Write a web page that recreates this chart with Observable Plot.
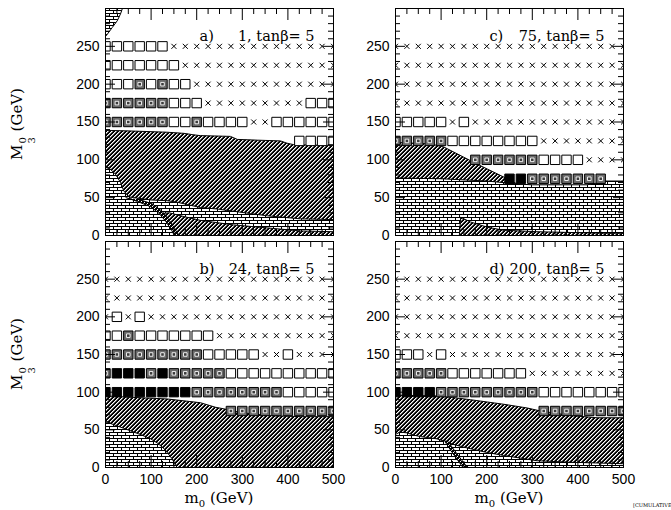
<!DOCTYPE html>
<html><head><meta charset="utf-8">
<script src="https://cdn.jsdelivr.net/npm/d3@7"></script>
<script src="https://cdn.jsdelivr.net/npm/@observablehq/plot@0.6"></script>
<style>
body{margin:0;background:#fff;}
#chart{position:relative;width:671px;height:510px;overflow:hidden;background:#fff;}
.lab{position:absolute;font-family:"DejaVu Serif","Liberation Serif",serif;font-size:15px;color:#000;white-space:nowrap;}
.ss{display:inline-flex;flex-direction:column;font-size:10px;line-height:9px;vertical-align:-4px;margin:0 1px;}
</style></head><body>
<div id="chart">
<svg width="0" height="0" style="position:absolute">
<defs>
<pattern id="hatch" patternUnits="userSpaceOnUse" width="4" height="4" patternTransform="translate(0.5 0.5)" shape-rendering="crispEdges">
<rect width="4" height="4" fill="white"/>
<rect x="2" y="0" width="2" height="1" fill="black"/>
<rect x="1" y="1" width="2" height="1" fill="black"/>
<rect x="0" y="2" width="2" height="1" fill="black"/>
<rect x="0" y="3" width="1" height="1" fill="black"/>
<rect x="3" y="3" width="1" height="1" fill="black"/>
<rect x="1" y="0" width="1" height="1" fill="#888"/>
<rect x="0" y="1" width="1" height="1" fill="#888"/>
<rect x="3" y="2" width="1" height="1" fill="#888"/>
<rect x="2" y="3" width="1" height="1" fill="#888"/>
</pattern>
<pattern id="dark" patternUnits="userSpaceOnUse" width="4" height="4" patternTransform="translate(0.5 0.5)" shape-rendering="crispEdges">
<rect width="4" height="4" fill="black"/>
<rect x="0" y="0" width="1" height="1" fill="white"/>
<rect x="3" y="1" width="1" height="1" fill="white"/>
<rect x="2" y="2" width="1" height="1" fill="white"/>
<rect x="1" y="3" width="1" height="1" fill="white"/>
</pattern>
<pattern id="brick" patternUnits="userSpaceOnUse" width="8" height="6" patternTransform="translate(0.5 0.5)" shape-rendering="crispEdges">
<rect width="8" height="6" fill="white"/>
<rect x="0" y="0" width="8" height="1" fill="black"/>
<rect x="0" y="3" width="8" height="1" fill="black"/>
<rect x="0" y="1" width="1" height="2" fill="black"/>
<rect x="4" y="4" width="1" height="2" fill="black"/>
</pattern>
</defs>
</svg>
</div>
<script>
// ---------- data ----------
const m0Cols = [0,25,50,75,100,125,150,175,200,225,250,275,300,325,350,375,400,425,450,475,500];
const m3Rows = [250,225,200,175,150,125,100,75];
const xTickLabels = [0,100,200,300,400,500];
const xMinorTicks = [25,50,75,125,150,175,225,250,275,325,350,375,425,450,475];
const yTickLabels = [0,50,100,150,200,250];
const yMinorTicks = [10,20,30,40,60,70,80,90,110,120,130,140,160,170,180,190,210,220,230,240,260,270,280,290];

// marker codes per row (m3 = 250 ... 75), per column (m0 = 0 ... 500)
// X = cross, O = open square, G = grey square, B = black square, . = none
const cellsA = [
  "OOOOOOXXXXXXXXXXXXXXX",
  "OOOOOOOXXXXXXXXXXXXXX",
  "OOOGOGOOXXXXXXXXXXXXX",
  "GGGGGGOOOXXXXXXXXXOOO",
  "GGGGGGOOGOOOOXXOOOOOO",
  ".................OOOO",
  ".....................",
  "....................."
];
const cellsB = [
  "XXXXXXXXXXXXXXXXXXXXX",
  "XXXXXXXXXXXXXXXXXXXXX",
  "XOXOXXXXXXXXXXXXXXXXX",
  "OOGOOOOOOOXXXXXXXXXXX",
  "GGGGGGGGGOOOOOXXOXXXX",
  "GBBBGBGGGGGOOOOOOOOOO",
  "BBBBBBBBGGGGGGGGOOOOO",
  "...........GGGGGGGGGG"
];
const cellsC = [
  "XXXXXXXXXXXXXXXXXXXXX",
  "XXXXXXXXXXXXXXXXXXXXX",
  "XXXXXXXXXXXXXXXXXXXXX",
  "XXXXXXXXXXXXXXXXXXXXX",
  "OOOOOXOXXXXXXXXXXXXXX",
  "GGGGGOOOOOOOOXXXXXXXX",
  ".......GGGGGGOOOOXXXX",
  "..........BBGGGGGGG.."
];
const cellsD = [
  "XXXXXXXXXXXXXXXXXXXXX",
  "XXXXXXXXXXXXXXXXXXXXX",
  "XXXXXXXXXXXXXXXXXXXXX",
  "XXXXXXXXXXXXXXXXXXXXX",
  "OOOXOXXXXXXXXXXXXXXXX",
  "GGGGGOOOOOOOXXXXXXXXX",
  "BBBBGGGGGGGGGOOOOOOOO",
  ".............GGGGGGGG"
];

// shaded regions, [m0, m3] outlines
const hatchA = [[0,0],[0,139],[62,138],[135,136.5],[172,135],[194,133],[208,132],[274,131],[289,127],[333,126],[384,125],[398,122],[413,120],[500,119],[500,0]];
const brickA = [[0,0],[0,90],[10,88],[22,81],[33,70],[40,59],[51,51],[62,50],[99,47],[135,46],[157,44],[179,41],[208,37],[245,35],[281,32],[318,29],[355,26],[391,24],[428,22],[500,21],[500,0]];
const stripA = [[156,0],[148,7],[138,15],[128,23],[122,29],[140,30],[172,25],[208,20],[281,14],[355,10],[428,6],[500,5],[500,0]];
const darkA = [[45,50],[70,45],[99,38],[118,29],[133,18],[145,7],[151,0],[160,0],[152,9],[140,20],[124,32],[102,42],[72,48]];
const cornerA = [[0,300],[37,300],[33,293],[26,284],[15,275],[4,266],[0,263]];

const hatchB = [[0,0],[0,95],[62,93],[135,91],[172,88.5],[208,86],[241,80],[267,77],[296,73],[355,69],[428,67.5],[500,67.5],[500,0]];
const brickB = [[0,0],[0,62],[13,58],[40,52],[62,47],[80,43],[99,38],[115,32],[128,25],[138,18],[146,11.5],[152,5],[157,0]];

const hatchC = [[0,0],[0,123],[77,121],[106,117],[135,108],[164,99],[194,90],[223,81.5],[245,75],[267,68],[282,64],[300,60],[300,0]];
const brickC = [[0,0],[0,76],[100,75],[200,72],[270,68],[300,67],[420,67],[440,69],[460,72],[500,72],[500,0]];
const lowC = [[140,0],[143,24],[164,18],[201,11],[237,7],[310,5],[456,3],[500,3],[500,0]];

const hatchD = [[0,0],[0,96],[90,95],[125,93],[164,90],[237,84],[289,79],[318,75],[384,69],[442,66],[500,66],[500,0]];
const brickD = [[0,0],[0,44],[10,47],[25,46],[40,43],[55,41],[91,38],[106,35],[125,31],[150,27],[164,25],[200,20],[237,16],[310,9],[383,7],[500,5],[500,0]];
const darkD = [[104,36],[116,34],[130,22],[145,10],[158,0],[148,0],[136,10],[122,22],[110,33]];

const panels = [
  {tag:"a)", num:"1, tanβ= 5", cells:cellsA, regions:[[hatchA,"hatch"],[brickA,"brick"],[stripA,"hatch"],[darkA,"dark"],[cornerA,"brick"]], left:60, top:0, H:227, bottom:false},
  {tag:"b)", num:"24, tanβ= 5", cells:cellsB, regions:[[hatchB,"hatch"],[brickB,"brick"]], left:60, top:233, H:226, bottom:true},
  {tag:"c)", num:"75, tanβ= 5", cells:cellsC, regions:[[hatchC,"hatch"],[brickC,"brick"],[lowC,"hatch"]], left:350, top:0, H:227, bottom:false},
  {tag:"d)", num:"200, tanβ= 5", cells:cellsD, regions:[[hatchD,"hatch"],[brickD,"brick"],[darkD,"dark"]], left:350, top:233, H:226, bottom:true}
];

// ---------- drawing ----------
const chart = document.getElementById("chart");
function toCells(rows){
  const out = [];
  rows.forEach((s,i)=>[...s].forEach((c,k)=>{ if(c!==".") out.push({m0:m0Cols[k], m3:m3Rows[i], t:c}); }));
  return out;
}
const W = 228, mL = 45, mR = 5, mT = 8;
for (const p of panels) {
  const H = p.H, mB = p.bottom ? 30 : 8;
  const cells = toCells(p.cells);
  const of = t => cells.filter(d => d.t === t);
  const marks = [];
  for (const [pts, pat] of p.regions) {
    marks.push(Plot.line(pts, {x:d=>d[0], y:d=>d[1], fill:`url(#${pat})`, stroke:"black", strokeWidth:1, clip:true}));
  }
  const dopt = {x:"m0", y:"m3", clip:true};
  marks.push(
    Plot.dot(of("X"), {...dopt, symbol:"times", r:2.4, stroke:"black", strokeWidth:1}),
    Plot.dot(of("O"), {...dopt, symbol:"square", r:5.3, fill:"white", stroke:"black", strokeWidth:1}),
    Plot.dot(of("G"), {...dopt, symbol:"square", r:5.3, fill:"#6a6a6a", stroke:"black", strokeWidth:1}),
    Plot.dot(of("G"), {...dopt, symbol:"square", r:2.0, fill:"#3a3a3a", stroke:"white", strokeWidth:0.9}),
    Plot.dot(of("B"), {...dopt, symbol:"square", r:5.3, fill:"black", stroke:"black", strokeWidth:1})
  );
  // inward ticks on all four sides
  marks.push(
    Plot.ruleX(xTickLabels, {x:d=>d, insetTop:H-12}),
    Plot.ruleX(xMinorTicks, {x:d=>d, insetTop:H-6}),
    Plot.ruleX(xTickLabels, {x:d=>d, insetBottom:H-12}),
    Plot.ruleX(xMinorTicks, {x:d=>d, insetBottom:H-6}),
    Plot.ruleY(yTickLabels, {y:d=>d, insetRight:W-10}),
    Plot.ruleY(yMinorTicks, {y:d=>d, insetRight:W-5}),
    Plot.ruleY(yTickLabels, {y:d=>d, insetLeft:W-10}),
    Plot.ruleY(yMinorTicks, {y:d=>d, insetLeft:W-5}),
    Plot.frame({stroke:"black", strokeWidth:1}),
    Plot.text([p.tag], {text:d=>d, frameAnchor:"top-left", dx:94, dy:22, textAnchor:"start", fontFamily:"DejaVu Serif", fontSize:14.5}),
    Plot.text([p.num], {text:d=>d, frameAnchor:"top-right", dx:-19, dy:22, textAnchor:"end", fontFamily:"DejaVu Serif", fontSize:14.5})
  );
  const svg = Plot.plot({
    width: mL + W + mR, height: mT + H + mB,
    marginLeft: mL, marginRight: mR, marginTop: mT, marginBottom: mB,
    x: {domain:[0,500], ticks:xTickLabels, tickSize:0, tickPadding:7, label:null, axis: p.bottom ? "bottom" : null},
    y: {domain:[0,300], ticks:yTickLabels, tickSize:0, tickPadding:6, label:null},
    style: {background:"transparent", fontFamily:"Liberation Sans, Arial, sans-serif", fontSize:"14px", color:"black", overflow:"visible"},
    marks
  });
  svg.style.position = "absolute";
  svg.style.left = p.left + "px";
  svg.style.top = p.top + "px";
  chart.appendChild(svg);
}

// axis titles (HTML text)
function addLabel(html, cx, cy, rot) {
  const d = document.createElement("div");
  d.className = "lab";
  d.innerHTML = html;
  d.style.left = cx + "px";
  d.style.top = cy + "px";
  d.style.transform = "translate(-50%,-50%)" + (rot ? " rotate(-90deg)" : "");
  chart.appendChild(d);
}
const yTitle = 'M<span class="ss"><span>0</span><span>3</span></span> (GeV)';
const xTitle = 'm<sub style="font-size:10px;line-height:0">0</sub> (GeV)';
addLabel(yTitle, 22, 124, true);
addLabel(yTitle, 22, 354, true);
addLabel(xTitle, 219, 498, false);
addLabel(xTitle, 509, 498, false);
const cum = document.createElement("div");
cum.textContent = "[CUMULATIVE";
cum.style.cssText = "position:absolute;left:633px;top:502px;font-family:'DejaVu Serif',serif;font-size:5px;white-space:nowrap;";
chart.appendChild(cum);
</script>
</body></html>
